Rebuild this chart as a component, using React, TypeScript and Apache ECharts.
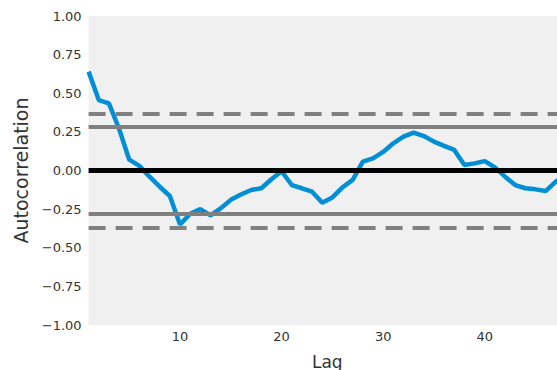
import React, { useEffect, useRef } from "react";
import * as echarts from "echarts";

// Autocorrelation of the series at lags 1..48
const acf: number[] = [
  0.64, 0.456, 0.435, 0.27, 0.07, 0.03, -0.04, -0.105, -0.165, -0.35,
  -0.28, -0.25, -0.29, -0.245, -0.19, -0.155, -0.126, -0.115, -0.057, -0.005,
  -0.094, -0.115, -0.137, -0.208, -0.174, -0.109, -0.061, 0.057, 0.079, 0.12,
  0.176, 0.219, 0.245, 0.223, 0.187, 0.159, 0.133, 0.036, 0.046, 0.061,
  0.02, -0.04, -0.094, -0.115, -0.122, -0.133, -0.072, -0.03,
];
const firstLag = 1;
const sampleSize = 48;
const xTickValues = [10, 20, 30, 40];
const yTickStep = 0.25;

// 95% and 99% confidence bands
const z95 = 1.959963984540054;
const z99 = 2.5758293035489;
const band95 = z95 / Math.sqrt(sampleSize);
const band99 = z99 / Math.sqrt(sampleSize);

const FONT = "DejaVu Sans";
const TEXT = "#333333";

// The plot area runs a little past the right edge of the visible frame.
const VIEW_W = 557;
const VIEW_H = 370;
const CHART_W = 566;

export default function App() {
  const ref = useRef<HTMLDivElement>(null);

  useEffect(() => {
    if (!ref.current) return;
    const chart = echarts.init(ref.current, null, { renderer: "svg" });
    const points = acf.map((v, i) => [firstLag + i, v]);
    const fmt = (v: number) => (v < 0 ? "\u2212" : "") + Math.abs(v).toFixed(2);

    chart.setOption({
      animation: false,
      backgroundColor: "#ffffff",
      grid: {
        left: 88.6,
        right: 0,
        top: 16,
        bottom: 45,
        outerBoundsMode: "none",
        containLabel: false,
        show: true,
        backgroundColor: "#F0F0F0",
        borderWidth: 0,
      },
      xAxis: {
        type: "value",
        min: firstLag,
        max: sampleSize,
        name: "Lag",
        nameLocation: "middle",
        nameGap: 28,
        nameTextStyle: { fontFamily: FONT, fontSize: 17, color: TEXT },
        axisLine: { show: false },
        axisTick: { show: false },
        splitLine: { show: false },
        axisLabel: {
          customValues: xTickValues,
          margin: 5,
          fontFamily: FONT,
          fontSize: 13,
          color: TEXT,
        },
      },
      yAxis: {
        type: "value",
        min: -1,
        max: 1,
        interval: yTickStep,
        name: "Autocorrelation",
        nameLocation: "middle",
        nameGap: 58,
        nameTextStyle: { fontFamily: FONT, fontSize: 19, color: TEXT },
        axisLine: { show: false },
        axisTick: { show: false },
        splitLine: { show: false },
        axisLabel: {
          margin: 7,
          fontFamily: FONT,
          fontSize: 13,
          color: TEXT,
          formatter: fmt,
        },
      },
      series: [
        {
          type: "line",
          data: [],
          z: 1,
          silent: true,
          markLine: {
            silent: true,
            symbol: "none",
            label: { show: false },
            data: [
              { yAxis: band99, lineStyle: { color: "#808080", width: 4, type: [17, 10] } },
              { yAxis: band95, lineStyle: { color: "#808080", width: 4, type: "solid" } },
              { yAxis: 0, lineStyle: { color: "#000000", width: 5, type: "solid" } },
              { yAxis: -band95, lineStyle: { color: "#808080", width: 4, type: "solid" } },
              { yAxis: -band99, lineStyle: { color: "#808080", width: 4, type: [17, 10] } },
            ],
          },
        },
        {
          type: "line",
          data: points,
          z: 3,
          showSymbol: false,
          symbol: "none",
          lineStyle: { color: "#008FD5", width: 4.5 },
        },
      ],
    });

    return () => chart.dispose();
  }, []);

  return (
    <div
      style={{
        position: "absolute",
        left: 0,
        top: 0,
        width: VIEW_W,
        height: VIEW_H,
        overflow: "hidden",
        background: "#ffffff",
      }}
    >
      <div ref={ref} style={{ width: CHART_W, height: VIEW_H }} />
    </div>
  );
}
